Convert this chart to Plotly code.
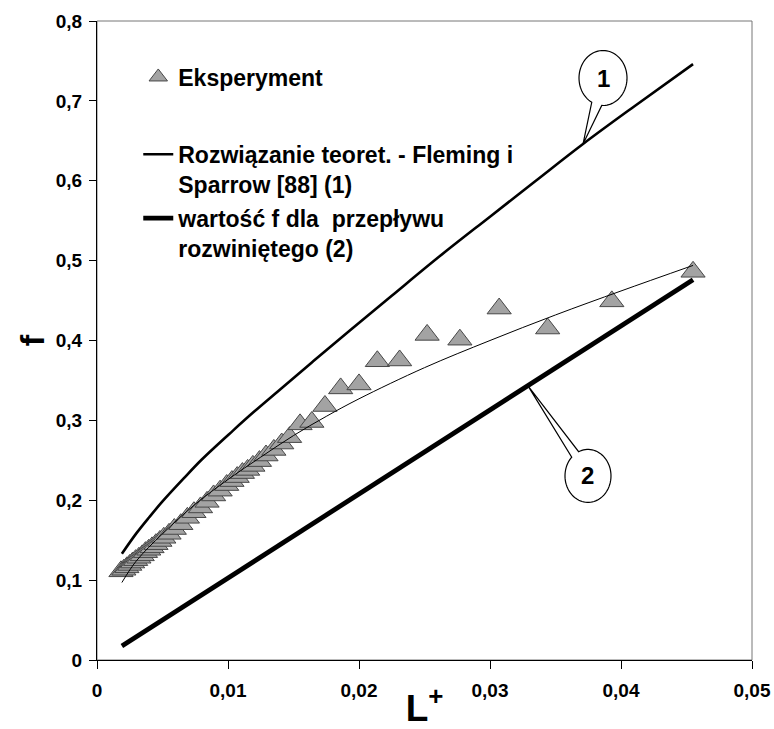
import numpy as np
import plotly.graph_objects as go

# --- data -------------------------------------------------------------
# experimental points (L+, f)
exp_L = [0.00183, 0.00205, 0.00228, 0.0025, 0.00272, 0.00295, 0.0032, 0.00345,
         0.0037, 0.00395, 0.0042, 0.0045, 0.0048, 0.0051, 0.0055, 0.0059,
         0.0064, 0.0069, 0.0074, 0.0079, 0.0084, 0.0089, 0.0094, 0.0099,
         0.0103, 0.0107, 0.0111, 0.0115, 0.0119, 0.0124, 0.0129, 0.0135,
         0.0141, 0.0147, 0.0155, 0.0164, 0.0174, 0.0186, 0.0200, 0.0214,
         0.0231, 0.0252, 0.0277, 0.0307, 0.0344, 0.0393, 0.0455]
exp_f = [0.111, 0.113, 0.116, 0.119, 0.122, 0.125, 0.128, 0.131,
         0.135, 0.138, 0.141, 0.145, 0.149, 0.153, 0.158, 0.164,
         0.170, 0.178, 0.185, 0.191, 0.198, 0.206, 0.212, 0.219,
         0.224, 0.229, 0.234, 0.238, 0.243, 0.249, 0.256, 0.263,
         0.271, 0.279, 0.295, 0.298, 0.318, 0.340, 0.345, 0.374,
         0.375, 0.407, 0.401, 0.440, 0.415, 0.449, 0.486]

# theoretical solution, Fleming & Sparrow (1)
fs_L = [0.0019, 0.0030, 0.0040, 0.0050, 0.0066, 0.0080, 0.0104, 0.0120,
        0.0140, 0.0165, 0.0193, 0.0225, 0.0262, 0.0300, 0.0335, 0.0371,
        0.0410, 0.0455]
fs_f = [0.133, 0.1585, 0.179, 0.1985, 0.227, 0.251, 0.2875, 0.311,
        0.339, 0.374, 0.4125, 0.456, 0.506, 0.555, 0.600, 0.646,
        0.693, 0.746]

# fully developed flow value (2)
dev_L = [0.0019, 0.0050, 0.0100, 0.0150, 0.0200, 0.0250, 0.0300, 0.0350,
         0.0400, 0.0455]
dev_f = [0.0175, 0.050, 0.103, 0.155, 0.208, 0.260, 0.313, 0.365,
         0.418, 0.476]

# smooth fit through the experimental points
fit_L = [0.0019, 0.0030, 0.0050, 0.0075, 0.0100, 0.0125, 0.0150, 0.0175,
         0.0200, 0.0250, 0.0300, 0.0350, 0.0400, 0.0455]
fit_f = [0.097, 0.124, 0.158, 0.195, 0.226, 0.254, 0.281, 0.305,
         0.327, 0.366, 0.400, 0.432, 0.462, 0.494]

x_ticks = [0, 0.01, 0.02, 0.03, 0.04, 0.05]
y_ticks = [0, 0.1, 0.2, 0.3, 0.4, 0.5, 0.6, 0.7, 0.8]

FONT = "Liberation Sans, Arial, sans-serif"

fig = go.Figure()

fig.add_trace(go.Scatter(
    x=exp_L, y=exp_f, mode="markers", name="Eksperyment",
    marker=dict(symbol="triangle-up", size=21, color="#a3a3a3",
                line=dict(color="#474747", width=1)),
    legend="legend"))

fig.add_trace(go.Scatter(
    x=fs_L, y=fs_f, mode="lines", line_shape="spline",
    name="Rozwiązanie teoret. - Fleming i<br>Sparrow [88] (1)",
    line=dict(color="black", width=2.6), legend="legend2"))

fig.add_trace(go.Scatter(
    x=dev_L, y=dev_f, mode="lines",
    name="wartość f dla  przepływu<br>rozwiniętego (2)",
    line=dict(color="black", width=4.8), legend="legend3"))

fig.add_trace(go.Scatter(
    x=fit_L, y=fit_f, mode="lines", showlegend=False, line_shape="spline",
    line=dict(color="black", width=1)))

# --- numbered callouts ------------------------------------------------
W, H = 774, 729
M = dict(l=97, r=22, t=21, b=69)
XR, YR = [0, 0.05], [0, 0.8]
sx = (XR[1] - XR[0]) / (W - M["l"] - M["r"])   # data units per pixel
sy = (YR[1] - YR[0]) / (H - M["t"] - M["b"])


def callout(tip_x, tip_y, dx, dy, rx, ry, gap):
    """Speech-bubble outline: ellipse offset (dx, dy px) from the tip."""
    cx, cy = tip_x + dx * sx, tip_y - dy * sy
    t = np.radians(np.linspace(gap[1], gap[0] + 360, 80))
    xs = cx + rx * np.cos(t) * sx
    ys = cy - ry * np.sin(t) * sy
    pts = [f"{a:.6f},{b:.6f}" for a, b in zip(xs, ys)]
    path = "M" + " L".join(pts) + f" L{tip_x:.6f},{tip_y:.6f} Z"
    return path, cx, cy


tip1_x = 0.0371
tip1_y = float(np.interp(tip1_x, fs_L, fs_f))
p1, c1x, c1y = callout(tip1_x, tip1_y, 20, -66, 24, 27.5, (93, 118))

tip2_x = 0.0329
tip2_y = float(np.interp(tip2_x, dev_L, dev_f))
p2, c2x, c2y = callout(tip2_x, tip2_y, 60, 90, 23, 26.5, (225, 246))

shapes = [
    dict(type="path", path=p1, xref="x", yref="y",
         line=dict(color="black", width=1.2), fillcolor="white"),
    dict(type="path", path=p2, xref="x", yref="y",
         line=dict(color="black", width=1.2), fillcolor="white"),
    # plot-area frame
    dict(type="rect", xref="paper", yref="paper", x0=0, y0=0, x1=1, y1=1,
         line=dict(color="#777777", width=1), layer="below"),
]

annotations = [
    dict(x=c1x, y=c1y, text="1", showarrow=False, xref="x", yref="y",
         font=dict(family=FONT, size=24, color="black", weight="bold")),
    dict(x=c2x, y=c2y, text="2", showarrow=False, xref="x", yref="y",
         font=dict(family=FONT, size=24, color="black", weight="bold")),
]

legend_common = dict(
    bgcolor="rgba(0,0,0,0)", borderwidth=0, xanchor="left", yanchor="top",
    valign="top", itemclick=False,
    font=dict(family=FONT, size=23, color="black", weight="bold"))

fig.update_layout(
    width=W, height=H, margin=M,
    paper_bgcolor="white", plot_bgcolor="white",
    separators=", ",
    shapes=shapes, annotations=annotations,
    legend=dict(x=0.063, y=0.946, **legend_common),
    legend2=dict(x=0.063, y=0.825, **legend_common),
    legend3=dict(x=0.063, y=0.725, **legend_common),
    xaxis=dict(range=XR, tickvals=x_ticks, showgrid=False, zeroline=False,
               automargin=False,
               showline=True, linecolor="black", linewidth=1,
               ticks="outside", ticklen=8, tickcolor="black",
               ticklabelstandoff=5,
               tickfont=dict(family=FONT, size=19, color="black", weight="bold"),
               title=dict(text="L<sup>+</sup>", standoff=0,
                          font=dict(family=FONT, size=37, color="black",
                                    weight="bold"))),
    yaxis=dict(range=YR, tickvals=y_ticks, showgrid=False, zeroline=False,
               automargin=False,
               showline=True, linecolor="black", linewidth=1,
               ticks="outside", ticklen=7, tickcolor="black",
               ticklabelstandoff=3,
               tickfont=dict(family=FONT, size=19, color="black", weight="bold"),
               title=dict(text="f", standoff=0,
                          font=dict(family=FONT, size=34, color="black",
                                    weight="bold"))),
)

fig.write_html("out.html")
